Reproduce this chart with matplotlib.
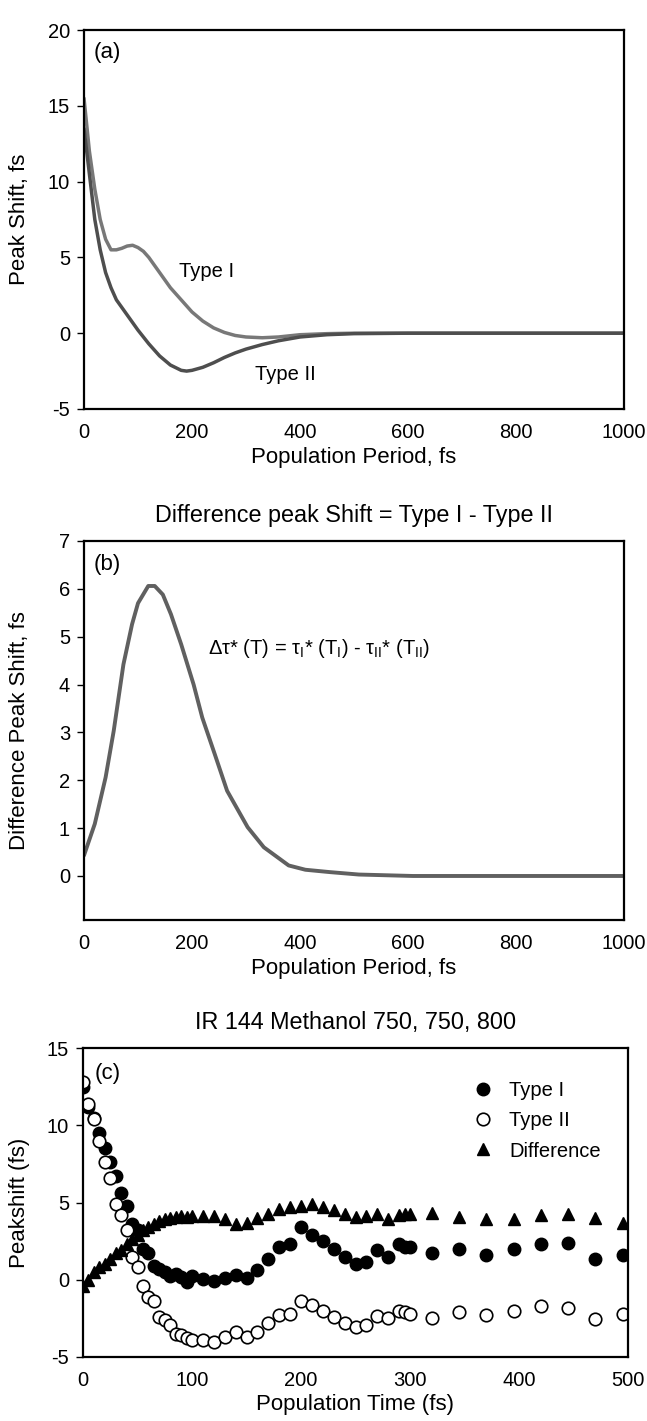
import matplotlib
matplotlib.use("Agg")
import matplotlib.pyplot as plt

plt.rcParams['font.family'] = ['Liberation Sans', 'DejaVu Sans']
plt.rcParams['mathtext.default'] = 'regular'
plt.rcParams['axes.unicode_minus'] = False

# ---------------- Panel (a) data ----------------
t1_a = [0, 10, 20, 30, 40, 50, 60, 70, 80, 90, 100, 110, 120, 140, 160, 180, 200, 220,
        240, 260, 280, 300, 330, 360, 400, 450, 500, 600, 800, 1000]
type1_a = [15.5, 12.0, 9.5, 7.5, 6.2, 5.5, 5.5, 5.6, 5.75, 5.8, 5.65, 5.4, 5.0, 4.0, 3.0,
           2.2, 1.4, 0.8, 0.35, 0.05, -0.15, -0.25, -0.3, -0.25, -0.1, -0.03, 0, 0, 0, 0]
t2_a = [0, 10, 20, 30, 40, 50, 60, 70, 80, 90, 100, 120, 140, 160, 180, 190, 200, 220,
        240, 260, 280, 300, 330, 360, 400, 450, 500, 600, 1000]
type2_a = [13.5, 10.5, 7.5, 5.5, 4.0, 3.0, 2.2, 1.7, 1.2, 0.7, 0.2, -0.7, -1.5, -2.1, -2.45,
           -2.5, -2.45, -2.25, -1.95, -1.6, -1.3, -1.05, -0.75, -0.5, -0.25, -0.1, -0.03, 0, 0]

# ---------------- Panel (b) data ----------------
t_b = [0, 20, 40, 55, 73, 89, 100, 119, 131, 146, 161, 180, 203, 219, 242, 265, 303, 333,
       379, 410, 456, 509, 609, 800, 1000]
diff_b = [0.43, 1.09, 2.06, 3.03, 4.42, 5.26, 5.7, 6.06, 6.06, 5.88, 5.47, 4.84, 4.0, 3.31,
          2.55, 1.78, 1.02, 0.6, 0.22, 0.13, 0.08, 0.03, 0.0, 0.0, 0.0]

# ---------------- Panel (c) data ----------------
t_c = [0, 5, 10, 15, 20, 25, 30, 35, 40, 45, 50, 55, 60, 65, 70, 75, 80, 85, 90, 95, 100,
       110, 120, 130, 140, 150, 160, 170, 180, 190, 200, 210, 220, 230, 240, 250, 260, 270,
       280, 290, 295, 300, 320, 345, 370, 395, 420, 445, 470, 495]
type1_c = [12.5, 11.2, 10.5, 9.5, 8.5, 7.6, 6.7, 5.6, 4.8, 3.6, 3.2, 2.0, 1.7, 0.9, 0.7,
           0.5, 0.25, 0.4, 0.15, -0.15, 0.25,
           0.06, -0.1, 0.1, 0.3, 0.1, 0.6, 1.36, 2.1, 2.3, 3.4, 2.9, 2.5, 2.0, 1.47, 1.03,
           1.14, 1.9, 1.47, 2.3, 2.1, 2.1,
           1.7, 2.0, 1.57, 2.0, 2.3, 2.4, 1.36, 1.57]
type2_c = [12.8, 11.4, 10.4, 9.0, 7.6, 6.6, 4.9, 4.2, 3.2, 1.5, 0.8, -0.4, -1.1, -1.4, -2.4,
           -2.6, -2.95, -3.5, -3.6, -3.75, -3.9,
           -3.9, -4.0, -3.7, -3.4, -3.7, -3.4, -2.8, -2.3, -2.2, -1.4, -1.66, -2.0, -2.4, -2.8,
           -3.06, -2.95, -2.37, -2.5, -2.0, -2.1, -2.2,
           -2.45, -2.1, -2.3, -2.0, -1.7, -1.8, -2.56, -2.2]
diff_c = [-0.4, 0.0, 0.5, 0.8, 1.05, 1.35, 1.7, 1.9, 2.3, 2.65, 2.9, 3.2, 3.4, 3.6, 3.8,
          3.95, 4.0, 4.05, 4.1, 4.05, 4.1,
          4.1, 4.1, 3.95, 3.6, 3.7, 4.0, 4.27, 4.6, 4.74, 4.8, 4.9, 4.7, 4.5, 4.27, 4.05,
          4.1, 4.27, 3.95, 4.2, 4.27, 4.27,
          4.3, 4.05, 3.95, 3.95, 4.16, 4.27, 4.0, 3.7]

W, H = 647, 1421
fig = plt.figure(figsize=(W / 100, H / 100), dpi=100)


def frac(left, top, right, bottom):
    return [left / W, 1 - bottom / H, (right - left) / W, (bottom - top) / H]


TICK_FS = 14.5
LABEL_FS = 16
TITLE_FS = 16.8


def style(ax):
    for s in ax.spines.values():
        s.set_color('black')
        s.set_linewidth(1.6)
    ax.tick_params(axis='y', direction='out', length=5, width=1, labelsize=TICK_FS, pad=5)
    ax.tick_params(axis='x', length=0, labelsize=TICK_FS, pad=10)


# Panel (a)
ax1 = fig.add_axes(frac(84, 30, 624, 409))
ax1.plot(t1_a, type1_a, color='#787878', lw=2.5, solid_capstyle='round')
ax1.plot(t2_a, type2_a, color='#4e4e4e', lw=2.5, solid_capstyle='round')
ax1.set_xlim(0, 1000)
ax1.set_ylim(-5, 20)
ax1.set_xticks([0, 200, 400, 600, 800, 1000])
ax1.set_yticks([-5, 0, 5, 10, 15, 20])
style(ax1)
ax1.set_xlabel('Population Period, fs', fontsize=LABEL_FS, labelpad=4)
ax1.set_ylabel('Peak Shift, fs', fontsize=LABEL_FS)
ax1.yaxis.set_label_coords(-0.10, 0.5)
ax1.text(0.017, 0.94, '(a)', transform=ax1.transAxes, fontsize=LABEL_FS, va='center')
ax1.text(176, 4.1, 'Type I', fontsize=14.5, va='center')
ax1.text(317, -2.7, 'Type II', fontsize=14.5, va='center')

# Panel (b)
ax2 = fig.add_axes(frac(84, 541, 624, 920))
ax2.plot(t_b, diff_b, color='#606060', lw=2.8, solid_capstyle='round')
ax2.set_xlim(0, 1000)
ax2.set_ylim(-0.92, 7)
ax2.set_xticks([0, 200, 400, 600, 800, 1000])
ax2.set_yticks([0, 1, 2, 3, 4, 5, 6, 7])
style(ax2)
ax2.set_xlabel('Population Period, fs', fontsize=LABEL_FS, labelpad=4)
ax2.set_ylabel('Difference Peak Shift, fs', fontsize=LABEL_FS)
ax2.yaxis.set_label_coords(-0.10, 0.5)
ax2.set_title('Difference peak Shift = Type I - Type II', fontsize=TITLE_FS, pad=14)
ax2.text(0.017, 0.937, '(b)', transform=ax2.transAxes, fontsize=LABEL_FS, va='center')
ax2.text(230, 4.76,
         r'$\Delta\tau$* (T) = $\tau_{I}$* (T$_{I}$) - $\tau_{II}$* (T$_{II}$)',
         fontsize=14.5, va='center')

# Panel (c)
ax3 = fig.add_axes(frac(83, 1048, 628, 1357))
ax3.plot(t_c, type1_c, 'o', color='black', ms=9, label='Type I')
ax3.plot(t_c, type2_c, 'o', mfc='white', mec='black', mew=1.2, ms=9, label='Type II')
ax3.plot(t_c, diff_c, '^', color='black', ms=9, label='Difference')
ax3.set_xlim(0, 500)
ax3.set_ylim(-5, 15)
ax3.set_xticks([0, 100, 200, 300, 400, 500])
ax3.set_yticks([-5, 0, 5, 10, 15])
style(ax3)
ax3.set_xlabel('Population Time (fs)', fontsize=LABEL_FS, labelpad=3)
ax3.set_ylabel('Peakshift (fs)', fontsize=LABEL_FS)
ax3.yaxis.set_label_coords(-0.097, 0.5)
ax3.set_title('IR 144 Methanol 750, 750, 800', fontsize=TITLE_FS, pad=14)
ax3.text(0.022, 0.919, '(c)', transform=ax3.transAxes, fontsize=LABEL_FS, va='center')
ax3.legend(loc='upper left', bbox_to_anchor=(0.716, 0.892), frameon=False, fontsize=14.5,
           borderpad=0, handlelength=1, handletextpad=0.8, labelspacing=0.55,
           borderaxespad=0)

fig.savefig('out.png', dpi=100)
